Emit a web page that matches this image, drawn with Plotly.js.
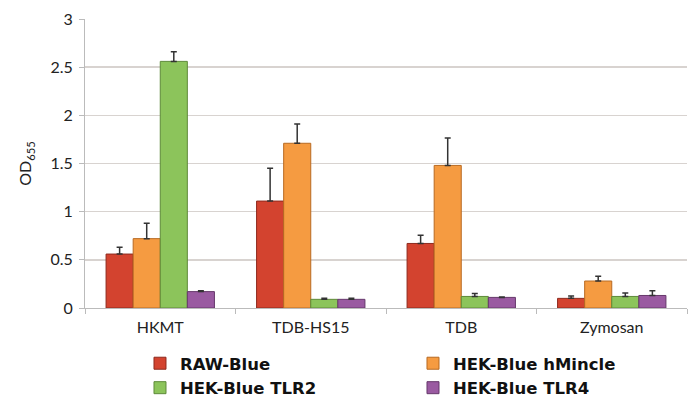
<!DOCTYPE html>
<html><head><meta charset="utf-8">
<script src="https://cdn.plot.ly/plotly-3.0.1.min.js"></script>
<style>html,body{margin:0;padding:0;background:#fff}#chart{width:693px;height:400px}</style>
</head><body><div id="chart"></div>
<script>
const categories = ["HKMT", "TDB-HS15", "TDB", "Zymosan"];
const seriesNames = ["RAW-Blue", "HEK-Blue hMincle", "HEK-Blue TLR2", "HEK-Blue TLR4"];
const rawBlue = [0.56, 1.11, 0.67, 0.10];
const rawBlueErr = [0.07, 0.34, 0.085, 0.025];
const hMincle = [0.72, 1.71, 1.48, 0.28];
const hMincleErr = [0.16, 0.20, 0.285, 0.05];
const tlr2 = [2.56, 0.09, 0.12, 0.12];
const tlr2Err = [0.10, 0.01, 0.03, 0.035];
const tlr4 = [0.17, 0.09, 0.11, 0.13];
const tlr4Err = [0.01, 0.01, 0.005, 0.05];
const colors = ["#d3432f", "#f59b41", "#8cc45b", "#9a5aa1"];
const edges = ["#8e2a1e", "#b86a22", "#5e8a39", "#66386b"];

const vals = [rawBlue, hMincle, tlr2, tlr4];
const errs = [rawBlueErr, hMincleErr, tlr2Err, tlr4Err];
const traces = vals.map((v, i) => ({
  type: "bar", x: categories, y: v, name: seriesNames[i],
  marker: {color: colors[i], line: {color: edges[i], width: 1}},
  error_y: {type: "data", array: errs[i], arrayminus: errs[i].map(() => 0), symmetric: false,
            color: "#333", thickness: 1.5, width: 3}
}));

const layout = {
  width: 693, height: 400,
  margin: {l: 85, r: 6, t: 19, b: 92},
  paper_bgcolor: "#fff", plot_bgcolor: "#fff",
  barmode: "group", bargap: 0.28, bargroupgap: 0,
  font: {family: "Lato, 'Open Sans', sans-serif", color: "#222"},
  xaxis: {type: "category", tickson: "boundaries", ticks: "outside", ticklen: 5, tickcolor: "#bbb",
          showline: true, linecolor: "#bbb", linewidth: 1, showgrid: false, ticklabelstandoff: 5,
          tickfont: {size: 16, color: "#222"}},
  yaxis: {range: [0, 3], dtick: 0.5, ticks: "outside", ticklen: 5, tickcolor: "#bbb",
          showline: true, linecolor: "#bbb", gridcolor: "#d8d3d0", gridwidth: 1.5, zeroline: false,
          tickfont: {size: 16, color: "#222"}, tickformat: "~g", ticklabelstandoff: 3,
          title: {text: "OD<sub>655</sub>", font: {size: 16, color: "#222"}, standoff: 14}},
  showlegend: true,
  legend: {orientation: "h", xref: "container", yref: "container", x: 0.202, y: 0.135, xanchor: "left", yanchor: "top",
           entrywidth: 228, entrywidthmode: "pixels", traceorder: "normal",
           font: {family: "'DejaVu Sans', sans-serif", size: 16.5, color: "#111", weight: "bold"},
           itemwidth: 30, tracegroupgap: 0}
};
Plotly.newPlot("chart", traces, layout, {displayModeBar: false, staticPlot: true});
</script></body></html>
